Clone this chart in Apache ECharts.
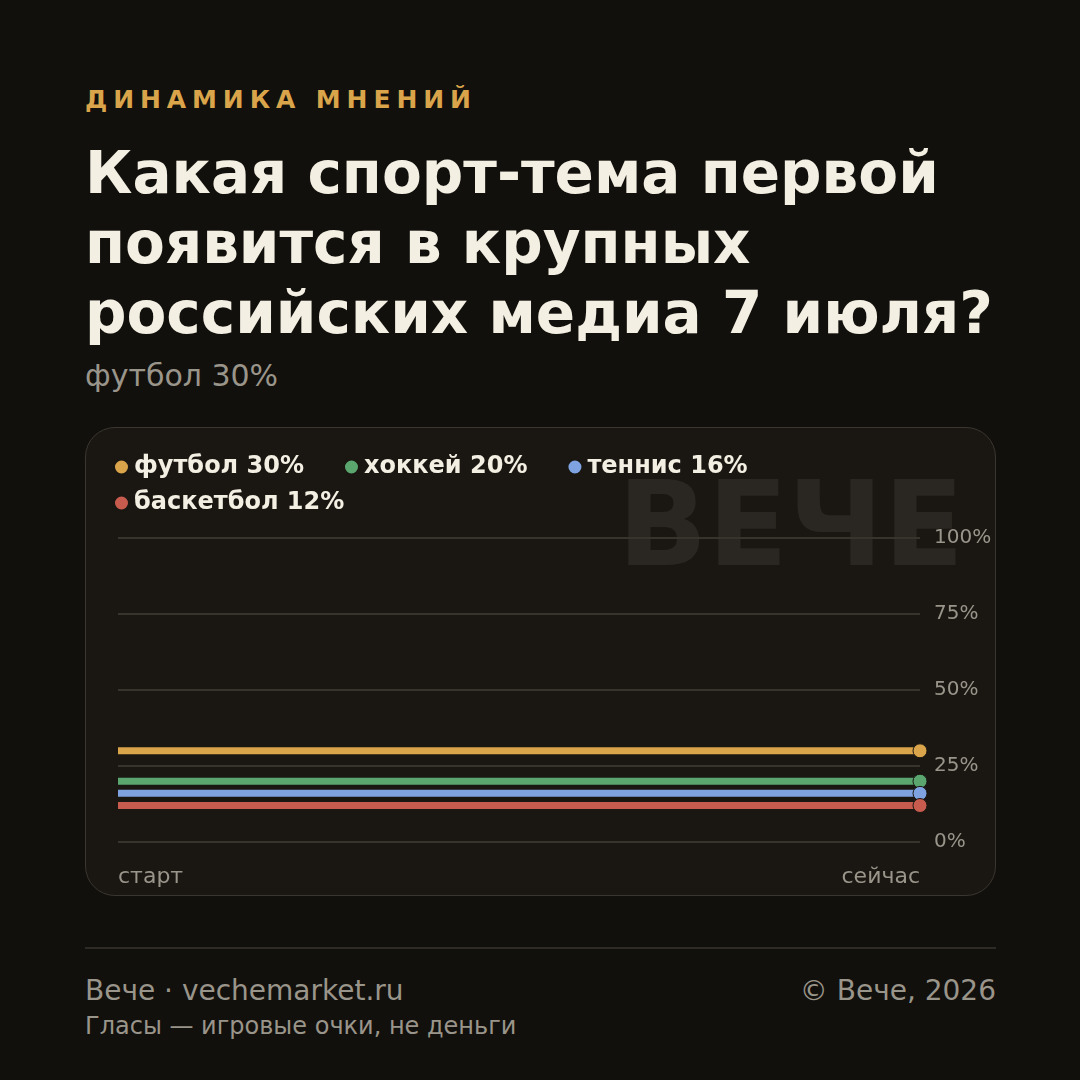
<!DOCTYPE html>
<html>
<head>
<meta charset="utf-8">
<script src="https://cdn.jsdelivr.net/npm/echarts@6/dist/echarts.min.js"></script>
<style>
  html, body {
    margin: 0;
    padding: 0;
    width: 1080px;
    height: 1080px;
    background: #12100d;
    font-family: 'DejaVu Sans', sans-serif;
    overflow: hidden;
  }
  .kicker {
    position: absolute;
    left: 85px;
    top: 85px;
    color: #d9a44a;
    font-weight: bold;
    font-size: 25px;
    letter-spacing: 5.9px;
  }
  .title {
    position: absolute;
    left: 85px;
    top: 138px;
    width: 960px;
    color: #f3efe2;
    font-weight: bold;
    font-size: 58px;
    line-height: 70px;
  }
  .subtitle {
    position: absolute;
    left: 85px;
    top: 358px;
    color: #9a958a;
    font-size: 30px;
  }
  .card {
    position: absolute;
    left: 85px;
    top: 427px;
    width: 909px;
    height: 467px;
    background: #1a1713;
    border: 1px solid #3a362f;
    border-radius: 30px;
  }
  #chart {
    position: absolute;
    left: 85px;
    top: 427px;
    width: 911px;
    height: 469px;
  }
  .rule {
    position: absolute;
    left: 85px;
    top: 947px;
    width: 911px;
    height: 2px;
    background: #2e2a25;
  }
  .foot {
    position: absolute;
    color: #9a958a;
  }
</style>
</head>
<body>
<div class="kicker">ДИНАМИКА МНЕНИЙ</div>
<div class="title">Какая спорт-тема первой появится в крупных российских медиа 7 июля?</div>
<div class="subtitle">футбол 30%</div>
<div class="card"></div>
<div id="chart"></div>
<div class="rule"></div>
<div class="foot" style="left:85px; top:974px; font-size:28px;">Вече · vechemarket.ru</div>
<div class="foot" style="right:84px; top:974px; font-size:28px;">© Вече, 2026</div>
<div class="foot" style="left:85px; top:1012px; font-size:24px;">Гласы — игровые очки, не деньги</div>

<script>
// данные
const categories = ['старт', 'сейчас']
const seriesNames = ['футбол 30%', 'хоккей 20%', 'теннис 16%', 'баскетбол 12%']
const football = [30, 30]
const hockey = [20, 20]
const tennis = [16, 16]
const basketball = [12, 12]
const yTicks = [0, 25, 50, 75, 100]

const colors = ['#d9a44a', '#5aa66e', '#7fa3e0', '#c65b4e']
const values = [football, hockey, tennis, basketball]

const chart = echarts.init(document.getElementById('chart'))

const makeSeries = (name, data, color) => ({
  name: name,
  type: 'line',
  data: data,
  color: color,
  lineStyle: { width: 7, color: color, cap: 'butt' },
  symbol: 'circle',
  symbolSize: (val, params) => (params.dataIndex === data.length - 1 ? 14 : 0),
  showSymbol: true,
  itemStyle: { color: color, borderColor: '#1a1713', borderWidth: 1 },
  animation: false
})

const legendBase = {
  left: 23,
  icon: 'circle',
  itemWidth: 15,
  itemHeight: 15,
  itemGap: 39,
  itemTextGap: 9,
  textStyle: { color: '#f3efe2', fontSize: 24, fontWeight: 'bold' }
}

chart.setOption({
  backgroundColor: 'transparent',
  textStyle: { fontFamily: 'DejaVu Sans' },
  grid: { left: 33, right: 76, top: 111, bottom: 54 },
  legend: [
    { ...legendBase, top: 23, data: seriesNames.slice(0, 3) },
    { ...legendBase, top: 59, data: seriesNames.slice(3) }
  ],
  graphic: [{
    type: 'text',
    right: 32,
    top: 48,
    z: 0,
    silent: true,
    style: {
      text: 'ВЕЧЕ',
      fill: '#2a2722',
      font: 'bold 118px "DejaVu Sans"'
    }
  }],
  xAxis: {
    type: 'category',
    data: categories,
    boundaryGap: false,
    axisLine: { show: false },
    axisTick: { show: false },
    axisLabel: {
      color: '#9a958a',
      fontSize: 22,
      margin: 24,
      alignMinLabel: 'left',
      alignMaxLabel: 'right'
    }
  },
  yAxis: {
    type: 'value',
    position: 'right',
    min: 0,
    max: 100,
    interval: 25,
    axisLine: { show: false },
    axisTick: { show: false },
    splitLine: { lineStyle: { color: '#37332d', width: 2 } },
    axisLabel: {
      color: '#9a958a',
      fontSize: 20,
      margin: 14,
      formatter: (v) => (yTicks.includes(v) ? v + '%' : '')
    }
  },
  series: seriesNames.map((n, i) => makeSeries(n, values[i], colors[i]))
})
</script>
</body>
</html>
